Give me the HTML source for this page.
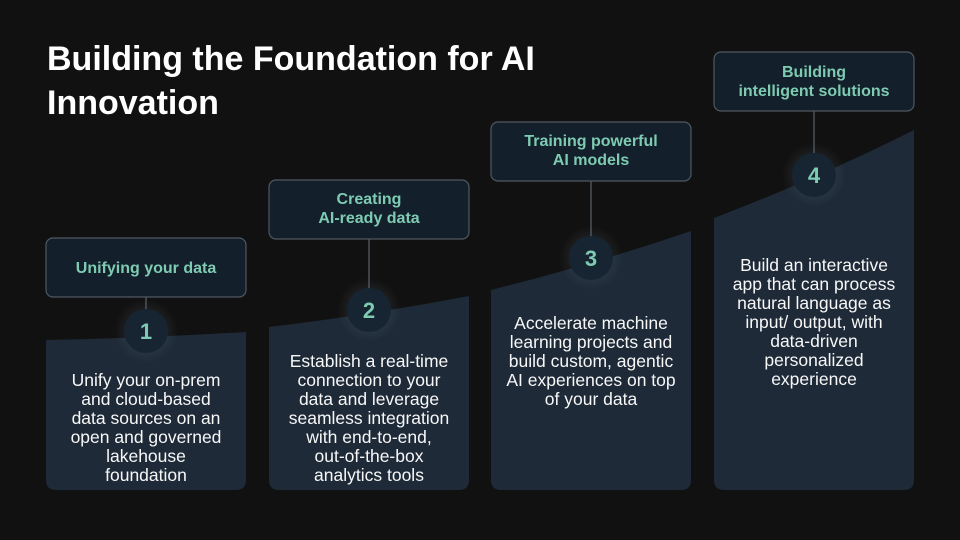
<!DOCTYPE html>
<html><head><meta charset="utf-8"><style>
html,body{margin:0;padding:0;background:#121111;}
svg{display:block;}
text{font-family:"Liberation Sans",sans-serif;}
</style></head><body>
<svg width="960" height="540" viewBox="0 0 960 540" xmlns="http://www.w3.org/2000/svg">
<defs>
<radialGradient id="g" cx="50%" cy="50%" r="50%">
<stop offset="0%" stop-color="#6a7a88" stop-opacity="0.35"/>
<stop offset="100%" stop-color="#6a7a88" stop-opacity="0"/>
</radialGradient>
</defs>
<rect width="960" height="540" fill="#121111"/>
<text x="47" y="70" font-size="34" font-weight="bold" fill="#ffffff">Building the Foundation for AI</text>
<text x="47" y="114" font-size="34" font-weight="bold" fill="#ffffff">Innovation</text>

<g fill="#1e2a38">
<path d="M46 340 Q146 338 246 332 L246 480 Q246 490 236 490 L56 490 Q46 490 46 480 Z"/>
<path d="M269 327 Q369 315 469 296 L469 480 Q469 490 459 490 L279 490 Q269 490 269 480 Z"/>
<path d="M491 290 Q591 265 691 231 L691 480 Q691 490 681 490 L501 490 Q491 490 491 480 Z"/>
<path d="M714 218 Q814 180 914 130 L914 480 Q914 490 904 490 L724 490 Q714 490 714 480 Z"/>
</g>

<g stroke="#5a626a" stroke-width="1.2">
<line x1="146" y1="297" x2="146" y2="312"/>
<line x1="369" y1="239" x2="369" y2="290"/>
<line x1="591" y1="181" x2="591" y2="238"/>
<line x1="814" y1="111" x2="814" y2="155"/>
</g>

<g fill="#13202b" stroke="#4e5862" stroke-width="1.2">
<rect x="46" y="238" width="200" height="59" rx="7"/>
<rect x="269" y="180" width="200" height="59" rx="7"/>
<rect x="491" y="122" width="200" height="59" rx="7"/>
<rect x="714" y="52" width="200" height="59" rx="7"/>
</g>
<g fill="#7ecbb2" font-size="16" font-weight="bold" text-anchor="middle">
<text x="146" y="273">Unifying your data</text>
<text x="369" y="204">Creating</text><text x="369" y="223">AI-ready data</text>
<text x="591" y="146">Training powerful</text><text x="591" y="165">AI models</text>
<text x="814" y="77">Building</text><text x="814" y="96">intelligent solutions</text>
</g>

<g>
<circle cx="146" cy="331" r="32" fill="url(#g)"/>
<circle cx="369" cy="310" r="32" fill="url(#g)"/>
<circle cx="591" cy="258" r="32" fill="url(#g)"/>
<circle cx="814" cy="175" r="32" fill="url(#g)"/>
</g>
<g fill="#172532">
<circle cx="146" cy="331" r="22"/>
<circle cx="369" cy="310" r="22"/>
<circle cx="591" cy="258" r="22"/>
<circle cx="814" cy="175" r="22"/>
</g>
<g fill="#7ecbb2" font-size="22" font-weight="bold" text-anchor="middle">
<text x="146" y="339">1</text>
<text x="369" y="318">2</text>
<text x="591" y="266">3</text>
<text x="814" y="183">4</text>
</g>

<g fill="#f7f7f7" font-size="17.5" text-anchor="middle">
<text x="146" y="386">Unify your on-prem</text>
<text x="146" y="405">and cloud-based</text>
<text x="146" y="424">data sources on an</text>
<text x="146" y="443">open and governed</text>
<text x="146" y="462">lakehouse</text>
<text x="146" y="481">foundation</text>

<text x="369" y="367">Establish a real-time</text>
<text x="369" y="386">connection to your</text>
<text x="369" y="405">data and leverage</text>
<text x="369" y="424">seamless integration</text>
<text x="369" y="443">with end-to-end,</text>
<text x="369" y="462">out-of-the-box</text>
<text x="369" y="481">analytics tools</text>

<text x="591" y="329">Accelerate machine</text>
<text x="591" y="348">learning projects and</text>
<text x="591" y="367">build custom, agentic</text>
<text x="591" y="386">AI experiences on top</text>
<text x="591" y="405">of your data</text>

<text x="814" y="271">Build an interactive</text>
<text x="814" y="290">app that can process</text>
<text x="814" y="309">natural language as</text>
<text x="814" y="328">input/ output, with</text>
<text x="814" y="347">data-driven</text>
<text x="814" y="366">personalized</text>
<text x="814" y="385">experience</text>
</g>
</svg>
</body></html>
